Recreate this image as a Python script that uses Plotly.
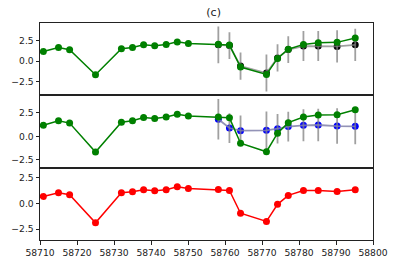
import plotly.graph_objects as go
from plotly.subplots import make_subplots

# ---- data ----
mjd = [58710.9, 58715.0, 58718.0, 58725.0, 58732.0, 58735.0, 58738.0, 58741.0,
       58744.1, 58747.1, 58750.1, 58758.2, 58761.2, 58764.2, 58771.2, 58774.2,
       58777.1, 58781.2, 58785.2, 58790.3, 58795.2]
green = [1.18, 1.67, 1.41, -1.66, 1.51, 1.67, 2.0, 1.9, 2.05, 2.36, 2.17,
         2.07, 1.97, -0.72, -1.63, 0.34, 1.46, 2.05, 2.26, 2.3, 2.84]
red = [0.67, 1.03, 0.84, -1.89, 1.03, 1.12, 1.32, 1.22, 1.32, 1.6, 1.44,
       1.35, 1.25, -0.96, -1.76, -0.1, 0.77, 1.25, 1.25, 1.15, 1.32]

mjd_obs = [58758.2, 58761.2, 58764.2, 58771.2, 58774.2, 58777.1, 58781.2,
           58785.2, 58790.3, 58795.2]
black = [2.0, 1.91, -0.6, -1.45, 0.4, 1.42, 1.85, 1.85, 1.8, 2.0]
black_err = [2.24, 1.63, 1.67, 2.27, 1.66, 1.63, 1.83, 1.83, 1.97, 1.97]
blue = [1.82, 0.89, 0.61, 0.64, 0.82, 1.04, 1.18, 1.21, 1.1, 1.07]
blue_err = [2.15, 1.58, 1.61, 2.0, 1.57, 1.57, 1.7, 1.73, 1.88, 1.9]

yticks = [-2.5, 0.0, 2.5]
ytick_text = ["\u22122.5", "0.0", "2.5"]
xticks = [58710, 58720, 58730, 58740, 58750, 58760, 58770, 58780, 58790, 58800]

fig = make_subplots(rows=3, cols=1, shared_xaxes=True, vertical_spacing=0)

grey = "rgba(128,128,128,0.75)"
msize = 7

# panel 1
fig.add_trace(go.Scatter(x=mjd_obs, y=black, mode="markers",
                         marker=dict(color="black", size=msize)), row=1, col=1)
fig.add_trace(go.Scatter(x=mjd_obs, y=black, mode="lines",
                         line=dict(color=grey, width=1.8),
                         error_y=dict(type="data", array=black_err, color=grey,
                                      thickness=1.8, width=0)), row=1, col=1)
fig.add_trace(go.Scatter(x=mjd, y=green, mode="lines+markers",
                         line=dict(color="green", width=1.5),
                         marker=dict(color="green", size=msize)), row=1, col=1)

# panel 2
fig.add_trace(go.Scatter(x=mjd_obs, y=blue, mode="markers",
                         marker=dict(color="blue", size=msize)), row=2, col=1)
fig.add_trace(go.Scatter(x=mjd_obs, y=blue, mode="lines",
                         line=dict(color="rgba(128,128,170,0.85)", width=1.8),
                         error_y=dict(type="data", array=blue_err, color=grey,
                                      thickness=1.8, width=0)), row=2, col=1)
fig.add_trace(go.Scatter(x=mjd, y=green, mode="lines+markers",
                         line=dict(color="green", width=1.5),
                         marker=dict(color="green", size=msize)), row=2, col=1)

# panel 3
fig.add_trace(go.Scatter(x=mjd, y=red, mode="lines+markers",
                         line=dict(color="red", width=1.5),
                         marker=dict(color="red", size=msize)), row=3, col=1)

axis_common = dict(showline=True, linecolor="#222", linewidth=1, mirror=True,
                   showgrid=False, zeroline=False, ticks="outside", ticklen=3.5,
                   tickcolor="#222", automargin=False,
                   tickfont=dict(family="DejaVu Sans", size=9.2, color="#222"))

for r in (1, 2, 3):
    fig.update_xaxes(range=[58710, 58800], tickvals=xticks,
                     ticktext=[str(v) for v in xticks], row=r, col=1, **axis_common)
    fig.update_yaxes(tickvals=yticks, ticktext=ytick_text, row=r, col=1, **axis_common)

fig.update_xaxes(ticks="", showticklabels=False, row=1, col=1)
fig.update_xaxes(ticks="", showticklabels=False, row=2, col=1)

fig.update_yaxes(range=[-4.18, 4.67], row=1, col=1)
fig.update_yaxes(range=[-3.32, 4.36], row=2, col=1)
fig.update_yaxes(range=[-3.56, 3.46], row=3, col=1)

fig.update_layout(
    width=396, height=264,
    margin=dict(l=40, r=23, t=23, b=24, autoexpand=False),
    showlegend=False,
    plot_bgcolor="white", paper_bgcolor="white",
    title=dict(text="(c)", x=(40 + 373) / 2 / 396, xanchor="center", xref="paper",
               y=1 - 12/264, yanchor="middle",
               font=dict(family="DejaVu Sans", size=11, color="#222")),
)

fig.write_html("out.html", config={"displayModeBar": False},
               post_script="document.body.style.margin='0';document.body.style.padding='0';")
